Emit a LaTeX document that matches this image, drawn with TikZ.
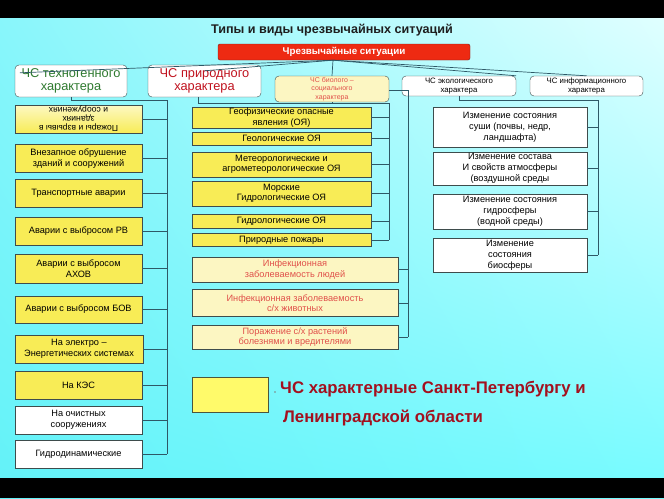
\documentclass[tikz,border=0pt]{standalone}
\usepackage{fontspec}
\setmainfont{Liberation Sans}
\usetikzlibrary{positioning}
\usetikzlibrary{shadings}
\definecolor{bgul}{HTML}{8AF6FB}
\definecolor{bgur}{HTML}{E4FFFF}
\definecolor{bgll}{HTML}{62F2F8}
\definecolor{bglr}{HTML}{74FBFF}
\definecolor{edge}{HTML}{3E4C4C}
\definecolor{wirec}{HTML}{2E5866}
\definecolor{ylw}{HTML}{F8EC56}
\definecolor{paleylw}{HTML}{FCF6C2}
\definecolor{legylw}{HTML}{FFFA6A}
\definecolor{redbox}{HTML}{EE2A12}
\definecolor{redline}{HTML}{7A1E1A}
\definecolor{techgreen}{HTML}{2F7A2F}
\definecolor{natred}{HTML}{C0121E}
\definecolor{biored}{HTML}{E0504A}
\definecolor{legred}{HTML}{A3101E}
\definecolor{titlec}{HTML}{1E1E1E}

\begin{document}
\begin{tikzpicture}[x=1pt,y=-1pt,
  hbox/.style={rectangle,rounded corners=4pt,draw=edge,fill=white,align=center,inner sep=0pt},
  cbox/.style={rectangle,draw=edge,fill=ylw,align=center,inner sep=0pt,font=\fontsize{9.2}{10.5}\selectfont},
  wbox/.style={cbox,fill=white},
  pbox/.style={cbox,fill=paleylw,text=biored},
  wire/.style={draw=wirec,line width=0.7pt}]
\shade [upper left=bgul,upper right=bgur,lower left=bgll,lower right=bglr] (0,0) rectangle (664,498);
\fill [black] (0,0) rectangle (664,18);
\fill [black] (0,478) rectangle (664,498);

\node [font=\bfseries\fontsize{12.6}{14}\selectfont,text=titlec] (title) at (332,30) {Типы и виды чрезвычайных ситуаций};
\node [rectangle,rounded corners=2pt,draw=redline,fill=redbox,text=white,minimum width=252pt,minimum height=16pt,inner sep=0pt,font=\bfseries\fontsize{9.8}{11}\selectfont] (chs) at (344,52) {Чрезвычайные ситуации};

\node [hbox,minimum width=112pt,minimum height=32pt,text=techgreen,font=\fontsize{12.8}{13.5}\selectfont] (tech) at (71,81) {ЧС техногенного\\характера};
\node [hbox,minimum width=113pt,minimum height=32pt,text=natred,font=\fontsize{12.8}{13.5}\selectfont] (nat) at (204.5,81) {ЧС природного\\характера};
\node [hbox,fill=paleylw,minimum width=114pt,minimum height=26pt,text=biored,font=\fontsize{7}{8.5}\selectfont] (bio) at (332,89) {ЧС биолого --\\социального\\характера};
\node [hbox,minimum width=114pt,minimum height=20pt,font=\fontsize{7.8}{9.5}\selectfont] (eco) at (459,86) {ЧС экологического\\характера};
\node [hbox,minimum width=113pt,minimum height=20pt,font=\fontsize{7.8}{9.5}\selectfont] (inf) at (586.5,86) {ЧС информационного\\характера};

\draw [wire] ([xshift=-11pt]chs.south) -- ([xshift=5pt,yshift=-8pt]tech.north west);
\draw [wire] ([xshift=-11pt]chs.south) -- ([yshift=-6pt]nat.north);
\draw [wire] ([xshift=-11pt]chs.south) -- (bio.north);
\draw [wire] ([xshift=-11pt]chs.south) -- (eco.north east);
\draw [wire] ([xshift=-11pt]chs.south) -- (inf.north);

\node [cbox,rotate=180,top color=ylw!35!white,bottom color=ylw,font=\fontsize{8.6}{9}\selectfont,minimum width=127pt,minimum height=28pt] (t1) at (78.5,119) {Пожары и взрывы в\\зданиях\\и сооружениях};
\node [cbox,minimum width=127pt,minimum height=28pt] (t2) at (78.5,158.5) {Внезапное обрушение\\зданий и сооружений};
\node [cbox,minimum width=127pt,minimum height=28pt] (t3) at (78.5,193.5) {Транспортные аварии};
\node [cbox,minimum width=127pt,minimum height=28pt] (t4) at (78.5,231) {Аварии с выбросом РВ};
\node [cbox,minimum width=127pt,minimum height=29pt] (t5) at (78.5,268.5) {Аварии с выбросом\\АХОВ};
\node [cbox,minimum width=127pt,minimum height=27pt] (t6) at (78.5,309.5) {Аварии с выбросом БОВ};
\node [cbox,minimum width=128pt,minimum height=28pt] (t7) at (79,349) {На электро --\\Энергетических системах};
\node [cbox,minimum width=127pt,minimum height=28pt] (t8) at (78.5,385) {На КЭС};
\node [wbox,minimum width=127pt,minimum height=28pt] (t9) at (78.5,420) {На очистных\\сооружениях};
\node [wbox,minimum width=127pt,minimum height=28pt] (t10) at (78.5,454) {Гидродинамические};

\coordinate (tbus) at (167,100);
\draw [wire] (tech.south) |- (tbus) -- (tbus |- t10.east);
\draw [wire] (t1.west) -- (t1.west -| tbus);
\foreach \n in {t2,t3,t4,t5,t6,t7,t8,t9,t10}
  \draw [wire] (\n.east) -- (\n.east -| tbus);

\node [cbox,minimum width=179pt,minimum height=21pt] (n1) at (281.5,117.5) {Геофизические опасные\\явления (ОЯ)};
\node [cbox,minimum width=179pt,minimum height=13pt] (n2) at (281.5,138.5) {Геологические ОЯ};
\node [cbox,minimum width=179pt,minimum height=25pt] (n3) at (281.5,164.5) {Метеорологические и\\агрометеорологические ОЯ};
\node [cbox,minimum width=179pt,minimum height=25pt] (n4) at (281.5,193.5) {Морские\\Гидрологические ОЯ};
\node [cbox,minimum width=179pt,minimum height=14pt] (n5) at (281.5,221) {Гидрологические ОЯ};
\node [cbox,minimum width=179pt,minimum height=13pt] (n6) at (281.5,240) {Природные пожары};

\coordinate (nbus) at (389,103);
\draw [wire] ([xshift=-6pt]nat.south) |- (nbus) -- (nbus |- n6.east);
\foreach \n in {n1,n2,n3,n4,n5,n6}
  \draw [wire] (\n.east) -- (\n.east -| nbus);

\node [pbox,minimum width=206pt,minimum height=25pt] (b1) at (295,269.5) {Инфекционная\\заболеваемость людей};
\node [pbox,minimum width=206pt,minimum height=27pt] (b2) at (295,303) {Инфекционная заболеваемость\\с/х животных};
\node [pbox,minimum width=206pt,minimum height=24pt] (b3) at (295,337) {Поражение с/х растений\\болезнями и вредителями};

\coordinate (bbus) at (408,90);
\coordinate (btick) at (332,104);
\draw [wire] (bio.south) -- (btick);
\draw [wire] (bio.east |- bbus) -- (bbus) -- (bbus |- b3.east);
\foreach \n in {b1,b2,b3}
  \draw [wire] (\n.east) -- (\n.east -| bbus);

\node [wbox,font=\fontsize{9.2}{11}\selectfont,minimum width=154pt,minimum height=40pt] (e1) at (510,127) {Изменение состояния\\суши (почвы, недр,\\ландшафта)};
\node [wbox,font=\fontsize{9.2}{11}\selectfont,minimum width=154pt,minimum height=33pt] (e2) at (510,168.5) {Изменение состава\\И свойств атмосферы\\(воздушной среды};
\node [wbox,font=\fontsize{9.2}{11}\selectfont,minimum width=154pt,minimum height=35pt] (e3) at (510,211.5) {Изменение состояния\\гидросферы\\(водной среды)};
\node [wbox,font=\fontsize{9.2}{11}\selectfont,minimum width=154pt,minimum height=34pt] (e4) at (510,255) {Изменение\\состояния\\биосферы};

\coordinate (ebus) at (598,100);
\draw [wire] (eco.south) |- (ebus) -- (ebus |- e4.east);
\foreach \n in {e1,e2,e3,e4}
  \draw [wire] (\n.east) -- (\n.east -| ebus);

\node [cbox,fill=legylw,draw=edge!80!olive,minimum width=76pt,minimum height=35pt] (leg) at (230,394.5) {};
\node [circle,fill=gray,inner sep=0.6pt] (dot) at (275,392) {};
\node [anchor=base west,inner sep=0pt,text=legred,font=\bfseries\fontsize{16.8}{19}\selectfont] (leg1) at (280,393) {ЧС характерные Санкт-Петербургу и};
\node [anchor=base west,inner sep=0pt,text=legred,font=\bfseries\fontsize{16.8}{19}\selectfont] (leg2) at (283,422) {Ленинградской области};
\end{tikzpicture}
\end{document}
